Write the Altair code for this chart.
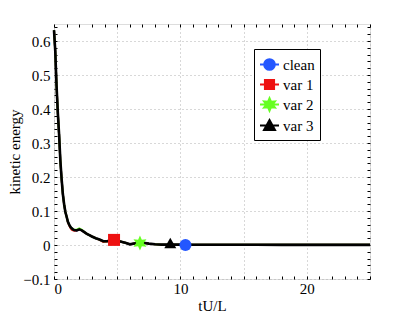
import math
import altair as alt
import pandas as pd

# ---------------- data ----------------
t = [0, 0.1, 0.2, 0.3, 0.4, 0.5, 0.6, 0.7, 0.8, 0.9, 1.0, 1.1, 1.2, 1.3, 1.4,
     1.5, 1.6, 1.8, 2.0, 2.2, 2.4, 2.6, 2.8, 3.0, 3.3, 3.6, 3.9, 4.2, 4.5, 4.8,
     5.1, 5.4, 5.7, 6.0, 6.3, 6.6, 6.9, 7.2, 7.5, 8.0, 8.5, 9.0, 10, 11, 12, 14,
     16, 18, 20, 22, 25]
clean = [0.632, 0.57, 0.47, 0.39, 0.327, 0.25, 0.195, 0.15, 0.12, 0.097, 0.083,
         0.068, 0.060, 0.053, 0.049, 0.046, 0.044, 0.043, 0.046, 0.043, 0.038,
         0.033, 0.029, 0.025, 0.020, 0.016, 0.011, 0.011, 0.014, 0.016, 0.012,
         0.009, 0.006, 0.002, 0.004, 0.006, 0.007, 0.006, 0.004, 0.002, 0.001,
         0.001, 0.001, 0.0008, 0.0008, 0.0006, 0.0006, 0.0005, 0.0005, 0.0005, 0.0005]
var1 = [0.632, 0.57, 0.47, 0.39, 0.327, 0.25, 0.195, 0.15, 0.12, 0.097, 0.083,
        0.067, 0.058, 0.050, 0.045, 0.043, 0.042, 0.043, 0.046, 0.043, 0.038,
        0.033, 0.029, 0.025, 0.020, 0.015, 0.009, 0.010, 0.014, 0.016, 0.012,
        0.009, 0.006, 0.002, 0.004, 0.006, 0.007, 0.006, 0.004, 0.002, 0.001,
        0.001, 0.001, 0.0008, 0.0008, 0.0006, 0.0006, 0.0005, 0.0005, 0.0005, 0.0005]
var2 = [0.632, 0.57, 0.47, 0.39, 0.327, 0.25, 0.195, 0.15, 0.12, 0.097, 0.083,
        0.068, 0.060, 0.053, 0.049, 0.046, 0.045, 0.045, 0.049, 0.045, 0.038,
        0.033, 0.029, 0.025, 0.020, 0.016, 0.011, 0.011, 0.014, 0.016, 0.012,
        0.009, 0.006, 0.002, 0.004, 0.006, 0.007, 0.006, 0.004, 0.002, 0.001,
        0.001, 0.001, 0.0008, 0.0008, 0.0006, 0.0006, 0.0005, 0.0005, 0.0005, 0.0005]
var3 = [0.632, 0.57, 0.47, 0.39, 0.327, 0.25, 0.195, 0.15, 0.12, 0.097, 0.083,
        0.068, 0.060, 0.053, 0.049, 0.046, 0.044, 0.043, 0.046, 0.043, 0.038,
        0.033, 0.029, 0.025, 0.020, 0.016, 0.011, 0.011, 0.014, 0.016, 0.012,
        0.009, 0.006, 0.002, 0.004, 0.006, 0.007, 0.006, 0.004, 0.002, 0.001,
        0.001, 0.001, 0.0008, 0.0008, 0.0006, 0.0006, 0.0005, 0.0005, 0.0005, 0.0005]

series_names = ["clean", "var 1", "var 2", "var 3"]
series_colors = ["#2457ff", "#ee1111", "#66ff22", "#000000"]
line_widths = [2.0, 2.0, 2.0, 2.6]

marker_t = [10.4, 4.75, 6.8, 9.2]
marker_v = [0.0, 0.015, 0.006, 0.006]

x_major = [0, 5, 10, 15, 20, 25]
x_minor = list(range(0, 26))
y_major = [-0.1, 0.0, 0.1, 0.2, 0.3, 0.4, 0.5, 0.6]
y_minor = [round(-0.1 + 0.02 * i, 2) for i in range(38)]

# ---------------- shapes ----------------
def star_path(r_out, r_in):
    pts = []
    for k in range(12):
        a = math.radians(-90 + 30 * k)
        r = r_out if k % 2 == 0 else r_in
        pts.append(f"{r * math.cos(a):.3f},{r * math.sin(a):.3f}")
    return "M" + "L".join(pts) + "Z"

plot_shapes = ["circle", "square", star_path(1.25, 0.62), "triangle-up"]
line_seg = "M-1,0L1,0"
legend_shapes = [
    line_seg + "M0.56,0A0.56,0.56,0,1,1,-0.56,0A0.56,0.56,0,1,1,0.56,0Z",
    line_seg + "M-0.48,-0.48L0.48,-0.48L0.48,0.48L-0.48,0.48Z",
    line_seg + "M" + star_path(0.66, 0.33)[1:],
    line_seg + "M0,-0.58L0.58,0.48L-0.58,0.48Z",
]

# ---------------- frames ----------------
all_vals = [clean, var1, var2, var3]
markers_df = pd.DataFrame({"t": marker_t, "v": marker_v, "series": series_names,
                           "label": series_names})

FONT = "Liberation Serif"
xs = alt.Scale(domain=[0, 25], nice=False, zero=False)
ys = alt.Scale(domain=[-0.1, 0.65], nice=False, zero=False)
color_scale = alt.Scale(domain=series_names, range=series_colors)

main_x = alt.Axis(orient="bottom", values=x_major, grid=True, ticks=False, domain=False,
                  labelExpr="(datum.value % 10 == 0 && datum.value < 25) ? datum.label : ''",
                  title="tU/L", labelFontSize=15, titleFontSize=15, labelPadding=2,
                  titlePadding=2, gridDash=[1, 3], gridColor="#b0b0b0", titleFontWeight="normal",
                  labelColor="black", titleColor="black", labelFont=FONT, titleFont=FONT)
main_y = alt.Axis(orient="left", values=y_major, grid=True, ticks=False, domain=False,
                  labelExpr="datum.value == 0 ? '0' : replace(format(datum.value, '.1f'), '-', '\u2212')",
                  title="kinetic energy", labelFontSize=15, titleFontSize=15, labelPadding=4,
                  titlePadding=0, gridDash=[1, 3], gridColor="#b0b0b0", titleFontWeight="normal",
                  labelColor="black", titleColor="black", labelFont=FONT, titleFont=FONT)

line_layers = []
for i, (name, vals, w) in enumerate(zip(series_names, all_vals, line_widths)):
    df = pd.DataFrame({"t": t, "v": vals, "series": name})
    line_layers.append(
        alt.Chart(df).mark_line(strokeWidth=w).encode(
            x=alt.X("t:Q", scale=xs, axis=main_x if i == 0 else None),
            y=alt.Y("v:Q", scale=ys, axis=main_y if i == 0 else None),
            color=alt.Color("series:N", scale=color_scale, legend=None),
            order=alt.Order("t:Q"),
        )
    )

markers = alt.Chart(markers_df).mark_point(filled=True, size=144, opacity=1).encode(
    x=alt.X("t:Q", scale=xs, axis=None),
    y=alt.Y("v:Q", scale=ys, axis=None),
    color=alt.Color("series:N", scale=color_scale, legend=None),
    shape=alt.Shape("series:N", scale=alt.Scale(domain=series_names, range=plot_shapes),
                    legend=None),
)

legend_layer = alt.Chart(markers_df).mark_point(filled=True, size=361, opacity=0,
                                                strokeWidth=2).encode(
    x=alt.X("t:Q", scale=xs, axis=None),
    y=alt.Y("v:Q", scale=ys, axis=None),
    fill=alt.Fill("label:N", scale=alt.Scale(domain=series_names, range=series_colors),
                  legend=alt.Legend(title=None)),
    stroke=alt.Stroke("label:N", scale=alt.Scale(domain=series_names, range=series_colors),
                      legend=alt.Legend(title=None)),
    shape=alt.Shape("label:N", scale=alt.Scale(domain=series_names, range=legend_shapes),
                    legend=alt.Legend(title=None, orient="none", legendX=200, legendY=25,
                                      symbolSize=361, symbolOpacity=1, symbolStrokeWidth=2,
                                      labelFont=FONT, labelFontSize=15, labelColor="black",
                                      labelOffset=3, padding=5, rowPadding=0,
                                      strokeColor="black", fillColor="white")),
)


def tick_layer(xorient, yorient):
    df = pd.DataFrame({"t": t, "v": clean})
    return alt.Chart(df).mark_point(opacity=0).encode(
        x=alt.X("t:Q", scale=xs, axis=alt.Axis(orient=xorient, values=x_minor, labels=False,
                                                grid=False, domain=False, tickSize=3,
                                                tickColor="black", offset=-3, title=None)),
        y=alt.Y("v:Q", scale=ys, axis=alt.Axis(orient=yorient, values=y_minor, labels=False,
                                                grid=False, domain=False, tickSize=3,
                                                tickColor="black", offset=-3, title=None)),
    )


chart = alt.layer(
    *line_layers, markers, legend_layer, tick_layer("bottom", "left"), tick_layer("top", "right")
).resolve_axis(x="independent", y="independent").resolve_scale(
    shape="independent", fill="independent", stroke="independent"
).properties(
    width=316, height=255,
    autosize=alt.AutoSizeParams(type="none"),
    padding={"left": 46, "top": 16, "right": 20, "bottom": 40},
).configure_view(stroke="black", strokeWidth=1).configure(font=FONT)

chart.save("out.html", embed_options={"renderer": "svg", "actions": False})
